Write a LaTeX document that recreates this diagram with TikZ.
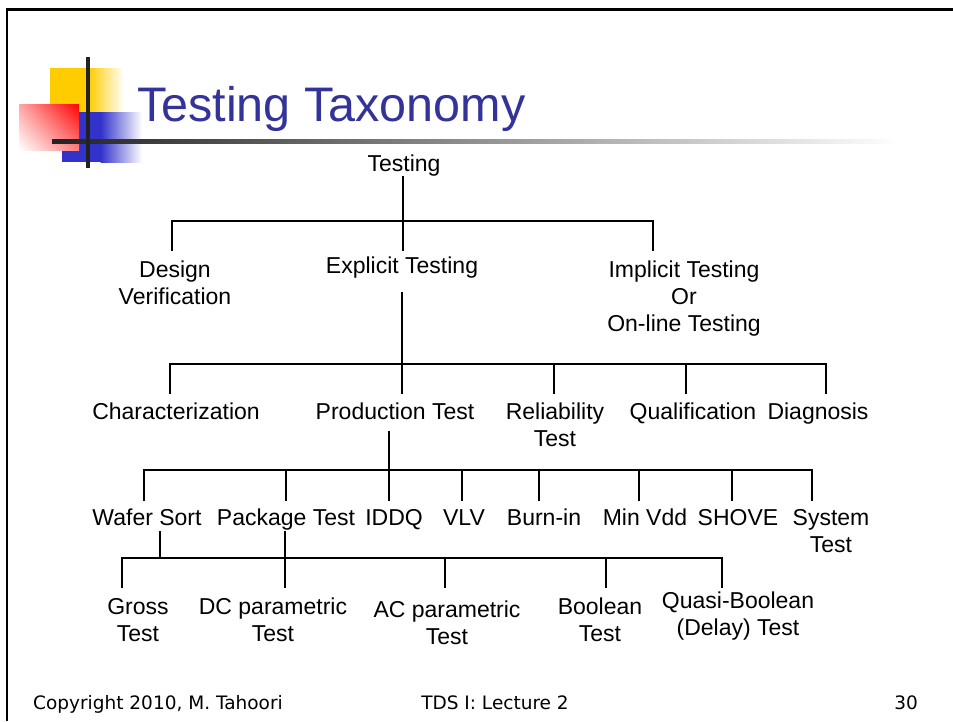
\documentclass[tikz,border=0pt]{standalone}
\usepackage{fontspec}
\usetikzlibrary{shadings}
\setmainfont{Liberation Sans}
\newfontfamily\footfont{DejaVu Sans}
\definecolor{titleblue}{HTML}{333399}
\definecolor{decoyellow}{HTML}{FFCC00}
\definecolor{decoblue}{HTML}{3333CC}
\definecolor{decored}{HTML}{FF0000}
\definecolor{decoblack}{HTML}{222222}
\newcommand{\mytwo}[2]{\begin{tabular}[t]{@{}c@{}}#1\\#2\end{tabular}}
\newcommand{\mythree}[3]{\begin{tabular}[t]{@{}c@{}}#1\\#2\\#3\end{tabular}}
\begin{document}
\begin{tikzpicture}[x=1pt,y=-1pt,
  lbl/.style={font=\fontsize{23}{27}\selectfont, inner sep=0pt, anchor=base},
  conn/.style={line width=1.2pt, black},
  footer/.style={font=\footfont\fontsize{18.5}{21}\selectfont, inner sep=0pt, text=black},
  frameline/.style={line width=2.5pt, black}]
\useasboundingbox (0,0) rectangle (953,721);
\fill[white] (0,0) rectangle (953,721);

% slide frame
\draw[frameline] (7,721) -- (7,9.5) -- (953,9.5);

% title decoration
\fill[decoyellow] (50,68) rectangle (89,112);
\shade[left color=decoyellow, right color=white] (88.5,68) rectangle (124,112);
\fill[decoblue] (62,112) rectangle (101,162);
\shade[left color=decoblue, right color=white] (100.5,112) rectangle (142,162);
\shade[upper right=decored, lower left=white, upper left=decored!35, lower right=decored!50] (19,104) rectangle (79,150);
\shade[left color=decoblack, middle color=black!38, right color=white] (52,139.3) rectangle (900,143.3);
\fill[decoblack] (86,57) rectangle (90,168);

% title
\node[anchor=base west, inner sep=0pt, text=titleblue, font=\fontsize{48.5}{52}\selectfont] (title) at (137,121) {Testing Taxonomy};

% level 1
\node[lbl] (t) at (404,171) {Testing};
% level 2
\node[lbl] (dv) at (175,277) {\mytwo{Design}{Verification}};
\node[lbl] (ex) at (402,273) {Explicit Testing};
\node[lbl] (im) at (684,277) {\mythree{Implicit Testing}{Or}{On-line Testing}};
% level 3
\node[lbl] (ch) at (176,419) {Characterization};
\node[lbl] (pt) at (395,419) {Production Test};
\node[lbl] (rt) at (555,419) {\mytwo{Reliability}{Test}};
\node[lbl] (qu) at (693,419) {Qualification};
\node[lbl] (di) at (818,419) {Diagnosis};
% level 4
\node[lbl] (ws) at (147,525) {Wafer Sort};
\node[lbl] (pk) at (286,525) {Package Test};
\node[lbl] (iq) at (394,525) {IDDQ};
\node[lbl] (vl) at (464,525) {VLV};
\node[lbl] (bi) at (544,525) {Burn-in};
\node[lbl] (mv) at (645,525) {Min Vdd};
\node[lbl] (sh) at (738,525) {SHOVE};
\node[lbl] (st) at (831,525) {\mytwo{System}{Test}};
% level 5
\node[lbl] (gr) at (138,614) {\mytwo{Gross}{Test}};
\node[lbl] (dc) at (273,614) {\mytwo{DC parametric}{Test}};
\node[lbl] (ac) at (447,617) {\mytwo{AC parametric}{Test}};
\node[lbl] (bo) at (600,614) {\mytwo{Boolean}{Test}};
\node[lbl] (qb) at (738,608) {\mytwo{Quasi-Boolean}{(Delay) Test}};

% connector junctions
\coordinate (b1) at (0,221);
\coordinate (t-s) at (403,176);
\coordinate (dv-n) at (172,251);
\coordinate (ex-n) at (403,251);
\coordinate (im-n) at (653,251);

\coordinate (b2) at (0,364);
\coordinate (ex-s) at (402,292);
\coordinate (ch-n) at (170,394);
\coordinate (pt-n) at (402,394);
\coordinate (rt-n) at (554,394);
\coordinate (qu-n) at (686,394);
\coordinate (di-n) at (826,394);

\coordinate (b3) at (0,470);
\coordinate (pt-s) at (389,431);
\coordinate (ws-n) at (144,501);
\coordinate (pk-n) at (286,501);
\coordinate (iq-n) at (389,501);
\coordinate (vl-n) at (462,501);
\coordinate (bi-n) at (539,501);
\coordinate (mv-n) at (639,501);
\coordinate (sh-n) at (732,501);
\coordinate (st-n) at (812,501);

\coordinate (b4) at (0,558);
\coordinate (ws-s) at (160,531);
\coordinate (pk-s) at (285,531);
\coordinate (gr-n) at (122,588);
\coordinate (dc-n) at (285,588);
\coordinate (ac-n) at (445,588);
\coordinate (bo-n) at (606,588);
\coordinate (qb-n) at (722,588);

% level 1 connectors
\draw[conn] (t-s) -- (ex-n);
\draw[conn] (dv-n) -- (dv-n |- b1) -- (im-n |- b1) -- (im-n);
% level 2 connectors
\draw[conn] (ex-s) -- (pt-n);
\draw[conn] (ch-n) -- (ch-n |- b2) -- (di-n |- b2) -- (di-n);
\draw[conn] (rt-n |- b2) -- (rt-n);
\draw[conn] (qu-n |- b2) -- (qu-n);
% level 3 connectors
\draw[conn] (pt-s) -- (iq-n);
\draw[conn] (ws-n) -- (ws-n |- b3) -- (st-n |- b3) -- (st-n);
\draw[conn] (pk-n |- b3) -- (pk-n);
\draw[conn] (vl-n |- b3) -- (vl-n);
\draw[conn] (bi-n |- b3) -- (bi-n);
\draw[conn] (mv-n |- b3) -- (mv-n);
\draw[conn] (sh-n |- b3) -- (sh-n);
% level 4 connectors
\draw[conn] (ws-s) -- (ws-s |- b4);
\draw[conn] (pk-s) -- (dc-n);
\draw[conn] (gr-n) -- (gr-n |- b4) -- (qb-n |- b4) -- (qb-n);
\draw[conn] (ac-n |- b4) -- (ac-n);
\draw[conn] (bo-n |- b4) -- (bo-n);

% footer
\node[footer, anchor=base west] (cr) at (33,709) {Copyright 2010, M. Tahoori};
\node[footer, anchor=base] (tds) at (495,709) {TDS I: Lecture 2};
\node[footer, anchor=base east] (pg) at (918,709) {30};
\end{tikzpicture}
\end{document}
